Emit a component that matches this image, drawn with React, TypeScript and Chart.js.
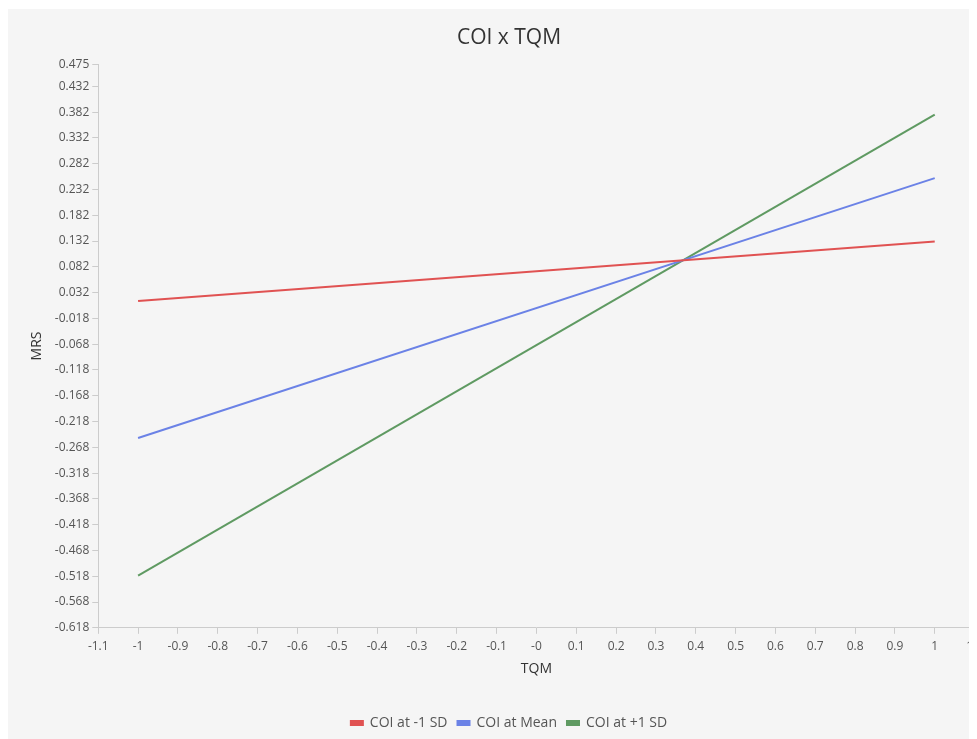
import React, { useEffect, useRef } from "react";
import { Chart, registerables } from "chart.js";

Chart.register(...registerables);

const xValues = [-1, 1];
const lowSD = [0.016, 0.131];
const meanVals = [-0.25, 0.254];
const highSD = [-0.517, 0.377];
const seriesNames = ["COI at -1 SD", "COI at Mean", "COI at +1 SD"];
const seriesColors = ["#e05252", "#6b82e6", "#5f9a62"];

const yTickValues = [
  -0.618, -0.568, -0.518, -0.468, -0.418, -0.368, -0.318, -0.268, -0.218, -0.168, -0.118,
  -0.068, -0.018, 0.032, 0.082, 0.132, 0.182, 0.232, 0.282, 0.332, 0.382, 0.432, 0.475,
];
const yTickLabels = [
  "-0.618", "-0.568", "-0.518", "-0.468", "-0.418", "-0.368", "-0.318", "-0.268", "-0.218", "-0.168", "-0.118",
  "-0.068", "-0.018", "0.032", "0.082", "0.132", "0.182", "0.232", "0.282", "0.332", "0.382", "0.432", "0.475",
];
const xTickValues = [
  -1.1, -1, -0.9, -0.8, -0.7, -0.6, -0.5, -0.4, -0.3, -0.2, -0.1, 0, 0.1, 0.2, 0.3, 0.4, 0.5, 0.6, 0.7, 0.8, 0.9, 1, 1.1,
];
const xTickLabels = [
  "-1.1", "-1", "-0.9", "-0.8", "-0.7", "-0.6", "-0.5", "-0.4", "-0.3", "-0.2", "-0.1", "-0", "0.1", "0.2", "0.3", "0.4", "0.5", "0.6", "0.7", "0.8", "0.9", "1", "1.1",
];

const FONT = "'Open Sans', 'Noto Sans', sans-serif";

export default function App() {
  const ref = useRef<HTMLCanvasElement>(null);
  useEffect(() => {
    if (!ref.current) return;
    const series = [lowSD, meanVals, highSD];
    const chart = new Chart(ref.current, {
      type: "line",
      data: {
        datasets: series.map((vals, i) => ({
          label: seriesNames[i],
          data: xValues.map((x, j) => ({ x, y: vals[j] })),
          borderColor: seriesColors[i],
          backgroundColor: seriesColors[i],
          borderWidth: 2,
          pointRadius: 0,
          tension: 0,
        })),
      },
      options: {
        animation: false,
        responsive: false,
        layout: { padding: { left: 21, right: 0, top: 6, bottom: 9 } },
        plugins: {
          title: {
            display: true,
            text: "COI x TQM",
            color: "#333",
            font: { family: FONT, size: 21, weight: "normal" },
            padding: { top: 10, bottom: 14 },
          },
          legend: {
            position: "bottom",
            labels: {
              boxWidth: 12,
              boxHeight: 4,
              color: "#555",
              font: { family: FONT, size: 14 },
              padding: 10,
            },
          },
          tooltip: { enabled: false },
        },
        scales: {
          x: {
            type: "linear",
            min: -1.1,
            max: 1.1,
            afterBuildTicks: (axis: any) => {
              axis.ticks = xTickValues.map((v) => ({ value: v }));
            },
            ticks: {
              color: "#555",
              font: { family: FONT, size: 12 },
              autoSkip: false,
              maxRotation: 0,
              padding: 6,
              callback: (_v: any, i: number) => xTickLabels[i],
            },
            grid: { display: true, drawOnChartArea: false, drawTicks: true, tickLength: 6, color: "#cccccc" },
            border: { color: "#cccccc" },
            title: {
              display: true,
              text: "TQM",
              color: "#333",
              font: { family: FONT, size: 14 },
              padding: { top: 0, bottom: 29 },
            },
          },
          y: {
            type: "linear",
            min: -0.618,
            max: 0.475,
            afterBuildTicks: (axis: any) => {
              axis.ticks = yTickValues.map((v) => ({ value: v }));
            },
            ticks: {
              color: "#555",
              font: { family: FONT, size: 12 },
              autoSkip: false,
              padding: 3,
              callback: (_v: any, i: number) => yTickLabels[i],
            },
            grid: { display: true, drawOnChartArea: false, drawTicks: true, tickLength: 6, color: "#cccccc" },
            border: { color: "#cccccc" },
            title: {
              display: true,
              text: "MRS",
              color: "#333",
              font: { family: FONT, size: 14 },
              padding: { top: 0, bottom: 6 },
            },
          },
        },
      },
      plugins: [
        {
          id: "bg",
          beforeDraw: (c: any) => {
            const ctx = c.ctx;
            ctx.save();
            ctx.fillStyle = "#f5f5f5";
            ctx.fillRect(0, 0, c.width, c.height);
            ctx.restore();
          },
        },
      ],
    });
    return () => chart.destroy();
  }, []);
  return (
    <div style={{ width: 969, overflow: "hidden", marginTop: 1 }}>
      <canvas ref={ref} width={981} height={740} style={{ display: "block" }} />
    </div>
  );
}
